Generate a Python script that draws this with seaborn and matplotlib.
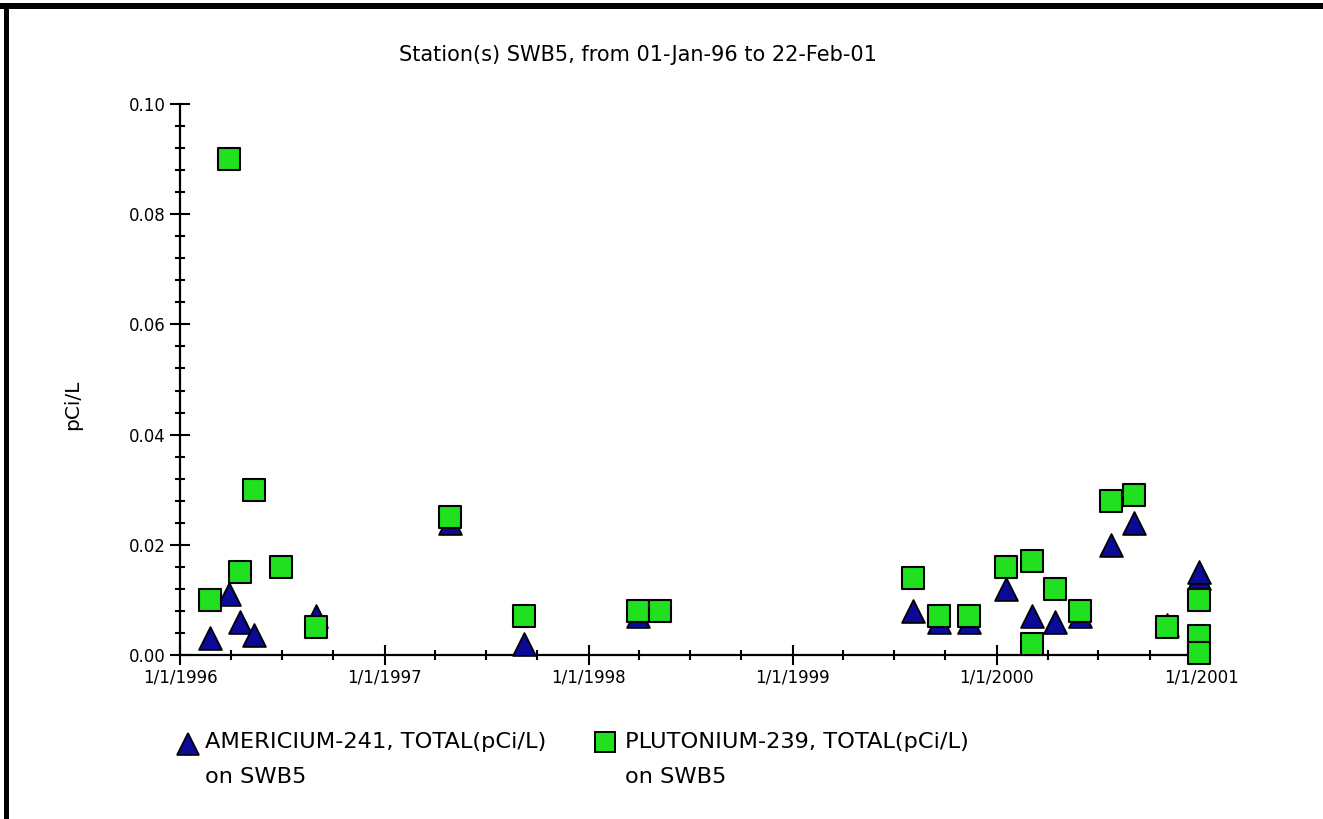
import matplotlib
matplotlib.use("Agg")
import matplotlib.pyplot as plt
import matplotlib.dates as mdates
from matplotlib.ticker import MultipleLocator, FuncFormatter
from matplotlib.lines import Line2D
from matplotlib.patches import Rectangle
import seaborn as sns
import pandas as pd

# ---- data ----
am_dates = ["1996-02-24", "1996-03-29", "1996-04-17", "1996-05-12", "1996-08-31",
            "1997-04-28", "1997-09-08", "1998-03-31", "1999-08-04", "1999-09-19",
            "1999-11-12", "2000-01-17", "2000-03-05", "2000-04-14", "2000-05-29",
            "2000-07-23", "2000-09-02", "2000-10-31", "2000-12-28", "2000-12-28"]
am_values = [0.003, 0.011, 0.006, 0.0037, 0.007,
             0.024, 0.002, 0.007, 0.008, 0.006,
             0.006, 0.012, 0.007, 0.006, 0.007,
             0.020, 0.024, 0.0055, 0.014, 0.015]

pu_dates = ["1996-02-24", "1996-03-29", "1996-04-17", "1996-05-12", "1996-06-30",
            "1996-08-31", "1997-04-28", "1997-09-08", "1998-03-31", "1998-05-08",
            "1999-08-04", "1999-09-19", "1999-11-12", "2000-01-17", "2000-03-05",
            "2000-03-05", "2000-04-14", "2000-05-29", "2000-07-23", "2000-09-02",
            "2000-10-31", "2000-12-28", "2000-12-28", "2000-12-28"]
pu_values = [0.010, 0.090, 0.015, 0.030, 0.016,
             0.005, 0.025, 0.007, 0.008, 0.008,
             0.014, 0.007, 0.007, 0.016, 0.017,
             0.002, 0.012, 0.008, 0.028, 0.029,
             0.005, 0.010, 0.0035, 0.0003]

title_text = "Station(s) SWB5, from 01-Jan-96 to 22-Feb-01"
y_label = "pCi/L"
am_label = "AMERICIUM-241, TOTAL(pCi/L)"
pu_label = "PLUTONIUM-239, TOTAL(pCi/L)"
station_line = "on SWB5"

am_color = "#0A0A96"
pu_color = "#20E020"

sns.set_style("white")
plt.rcParams["font.family"] = ["DejaVu Sans"]
plt.rcParams["text.color"] = "black"
plt.rcParams["axes.labelcolor"] = "black"
plt.rcParams["xtick.color"] = "black"
plt.rcParams["ytick.color"] = "black"

W, H = 1323, 819
fig = plt.figure(figsize=(W / 100, H / 100), dpi=100)
ax = fig.add_axes([180 / W, 1 - 655 / H, (1208 - 180) / W, (655 - 104) / H])

df_am = pd.DataFrame({"date": pd.to_datetime(am_dates), "value": am_values})
df_pu = pd.DataFrame({"date": pd.to_datetime(pu_dates), "value": pu_values})

msize = 230
sns.scatterplot(data=df_am, x="date", y="value", marker="^", s=msize + 40,
                color=am_color, edgecolor="black", linewidth=1.3, ax=ax,
                legend=False, zorder=3, clip_on=False)
sns.scatterplot(data=df_pu, x="date", y="value", marker="s", s=msize,
                color=pu_color, edgecolor="black", linewidth=1.5, ax=ax,
                legend=False, zorder=4, clip_on=False)

ax.set_xlim(pd.Timestamp("1996-01-01"), pd.Timestamp("2001-01-13"))
ax.set_ylim(0, 0.10)

ax.xaxis.set_major_locator(mdates.YearLocator())
ax.xaxis.set_minor_locator(mdates.MonthLocator(bymonth=[4, 7, 10]))
def fmt_date(x, pos):
    d = mdates.num2date(x)
    return f"{d.month}/{d.day}/{d.year}"
ax.xaxis.set_major_formatter(FuncFormatter(fmt_date))

ax.yaxis.set_major_locator(MultipleLocator(0.02))
ax.yaxis.set_minor_locator(MultipleLocator(0.004))
ax.yaxis.set_major_formatter(FuncFormatter(lambda v, p: f"{v:.2f}"))

for s in ["top", "right"]:
    ax.spines[s].set_visible(False)
for s in ["left", "bottom"]:
    ax.spines[s].set_color("black")
    ax.spines[s].set_linewidth(1.6)

ax.tick_params(axis="x", which="both", bottom=True, top=False)
ax.tick_params(axis="y", which="both", left=True, right=False)
ax.tick_params(which="major", direction="inout", length=14, width=1.5,
               colors="black", labelsize=12, pad=3)
ax.tick_params(which="minor", direction="inout", length=7, width=1.5,
               colors="black")
ax.set_xlabel("")
ax.set_ylabel("")
ax.grid(False)

# title and axis label
fig.text(638 / W, 1 - 55 / H, title_text, ha="center", va="center",
         fontsize=15, color="black")
fig.text(73 / W, 1 - 405 / H, y_label, ha="center", va="center",
         rotation=90, fontsize=14.5, color="black")

# legend (manual, below the plot)
leg_fs = 16.2
leg_y1 = 1 - 742 / H
leg_y2 = 1 - 777 / H
fig.add_artist(Line2D([188 / W], [leg_y1 - 0.002], marker="^", markersize=16,
                      markerfacecolor=am_color, markeredgecolor="black",
                      markeredgewidth=1.2, linestyle="none", transform=fig.transFigure))
fig.text(205 / W, leg_y1, am_label, ha="left", va="center", fontsize=leg_fs, color="black")
fig.text(205 / W, leg_y2, station_line, ha="left", va="center", fontsize=leg_fs, color="black")
fig.add_artist(Line2D([605 / W], [leg_y1], marker="s", markersize=14,
                      markerfacecolor=pu_color, markeredgecolor="black",
                      markeredgewidth=1.4, linestyle="none", transform=fig.transFigure))
fig.text(625 / W, leg_y1, pu_label, ha="left", va="center", fontsize=leg_fs, color="black")
fig.text(625 / W, leg_y2, station_line, ha="left", va="center", fontsize=leg_fs, color="black")

# black frame lines (top and left)
fig.add_artist(Rectangle((0, 1 - 9 / H), 1, 6 / H, transform=fig.transFigure,
                         facecolor="black", edgecolor="none"))
fig.add_artist(Rectangle((4 / W, 0), 5 / W, 1 - 3 / H, transform=fig.transFigure,
                         facecolor="black", edgecolor="none"))

fig.savefig("out.png", dpi=100, facecolor="white")
